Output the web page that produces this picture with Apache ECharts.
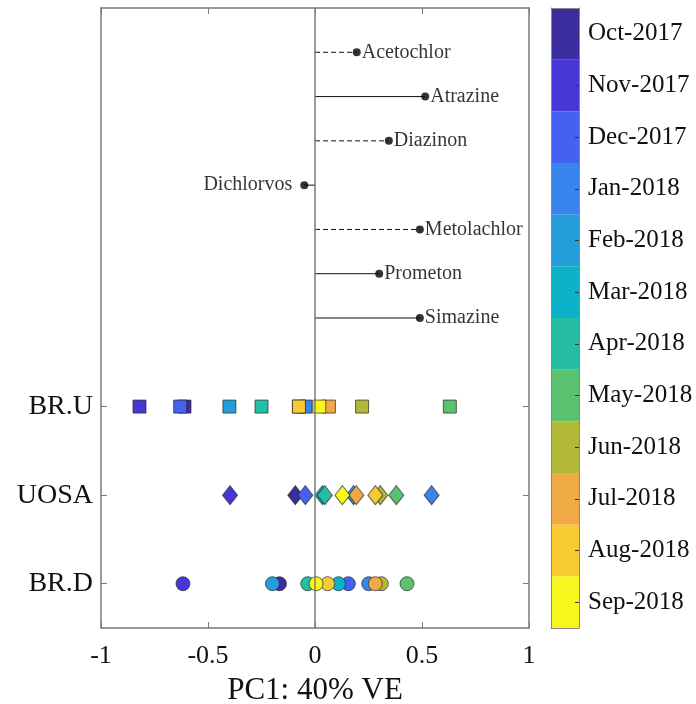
<!DOCTYPE html>
<html>
<head>
<meta charset="utf-8">
<script src="https://cdn.jsdelivr.net/npm/echarts@6/dist/echarts.min.js"></script>
<style>html,body{margin:0;padding:0;background:#fff}#c{width:696px;height:704px}</style>
</head>
<body>
<div id="c"></div>
<script>
const months = ['Oct-2017','Nov-2017','Dec-2017','Jan-2018','Feb-2018','Mar-2018','Apr-2018','May-2018','Jun-2018','Jul-2018','Aug-2018','Sep-2018'];
const monthColors = ['#3B2CA0','#4637D6','#4461F2','#3883EC','#259DDB','#0EB2C8','#26BDA5','#5BC272','#B1B937','#F0AA45','#F8CA31','#F7F71E'];
const sites = ['BR.D','UOSA','BR.U'];
const siteRows = [1,3,5];
// PC1 scores per month (Oct-2017 ... Sep-2018)
const brD  = [-0.166,-0.617,0.156,0.251,-0.199,0.11,-0.034,0.43,0.31,0.282,0.059,0.005];
const uosa = [-0.092,-0.397,-0.045,0.545,0.18,0.035,0.046,0.38,0.305,0.193,0.282,0.128];
const brU  = [-0.61,-0.82,-0.63,-0.045,-0.40,-0.075,-0.25,0.63,0.22,0.065,-0.075,0.02];
const loadingNames = ['Acetochlor','Atrazine','Diazinon','Dichlorvos','Metolachlor','Prometon','Simazine'];
const loadingValues = [0.195,0.515,0.345,-0.05,0.49,0.30,0.49];
const loadingRows = [13,12,11,10,9,8,7];
const loadingDashed = [true,false,true,false,true,false,false];
const xTicks = [-1,-0.5,0,0.5,1];

const FONT = 'Liberation Serif';
const siteData = [brD, uosa, brU];
const siteSymbols = ['circle','diamond','rect'];
const siteSizes = [14,[15,19],13];

const series = [];
siteData.forEach((arr, s) => {
  series.push({
    type: 'scatter', xAxisIndex: 0, yAxisIndex: 0,
    symbol: siteSymbols[s], symbolSize: siteSizes[s],
    data: arr.map((v, i) => ({value: [v, siteRows[s]], itemStyle: {color: monthColors[i]}})),
    itemStyle: {borderColor: 'rgba(40,40,40,0.7)', borderWidth: 1, opacity: 1},
    z: 3
  });
});
loadingNames.forEach((n, i) => {
  series.push({
    type: 'line', xAxisIndex: 0, yAxisIndex: 0, symbol: 'none',
    data: [[0, loadingRows[i]], [loadingValues[i], loadingRows[i]]],
    lineStyle: {color: '#111', width: 1, type: loadingDashed[i] ? [5,3] : 'solid'},
    z: 2, silent: true
  });
});
series.push({
  type: 'scatter', xAxisIndex: 0, yAxisIndex: 0, symbol: 'circle', symbolSize: 8,
  itemStyle: {color: '#000'},
  data: loadingNames.map((n, i) => ({
    value: [loadingValues[i], loadingRows[i]], name: n,
    label: {show: true, position: loadingValues[i] < 0 ? 'left' : 'right', distance: loadingValues[i] < 0 ? 8 : 1,
      formatter: n, fontFamily: FONT, fontSize: 20, color: '#000'}
  })),
  markLine: {silent: true, symbol: 'none', label: {show: false},
    lineStyle: {color: '#7a7a7a', width: 1.5, type: 'solid'}, data: [{xAxis: 0}]},
  z: 4
});
// colorbar
series.push({
  type: 'bar', xAxisIndex: 2, yAxisIndex: 2, barWidth: '100%', barCategoryGap: 0,
  data: months.map((m, i) => ({value: 1, itemStyle: {color: monthColors[i]}})),
  silent: true, z: 1
});

const axisGray = '#7a7a7a';
const option = {
  animation: false,
  backgroundColor: '#fff',
  grid: [
    {left: 101, right: 167, top: 8, bottom: 76, outerBoundsMode: 'none', containLabel: false},
    {left: 551, width: 28, top: 8, bottom: 76, outerBoundsMode: 'none', containLabel: false}
  ],
  xAxis: [
    {type: 'value', gridIndex: 0, min: -1, max: 1, interval: 0.5, position: 'bottom',
     name: 'PC1: 40% VE', nameLocation: 'middle', nameGap: 47,
     nameTextStyle: {fontFamily: FONT, fontSize: 31, color: '#111'},
     axisLine: {show: true, onZero: false, lineStyle: {color: axisGray, width: 1.5}},
     axisTick: {show: true, inside: true, length: 6, lineStyle: {color: axisGray}},
     axisLabel: {fontFamily: FONT, fontSize: 26, color: '#111', margin: 15,
       formatter: v => (xTicks.indexOf(v) >= 0 ? String(v) : '')},
     splitLine: {show: false}},
    {type: 'value', gridIndex: 0, min: -1, max: 1, interval: 0.5, position: 'top',
     axisLine: {show: true, onZero: false, lineStyle: {color: axisGray, width: 1.5}},
     axisTick: {show: true, inside: true, length: 6, lineStyle: {color: axisGray}},
     axisLabel: {show: false}, splitLine: {show: false}},
    {type: 'value', gridIndex: 1, min: 0, max: 1, position: 'bottom', z: 10,
     axisLine: {show: true, onZero: false, lineStyle: {color: '#888', width: 1}},
     axisTick: {show: false}, axisLabel: {show: false}, splitLine: {show: false}},
    {type: 'value', gridIndex: 1, min: 0, max: 1, position: 'top', z: 10,
     axisLine: {show: true, onZero: false, lineStyle: {color: '#888', width: 1}},
     axisTick: {show: false}, axisLabel: {show: false}, splitLine: {show: false}}
  ],
  yAxis: [
    {type: 'value', gridIndex: 0, min: 0, max: 14, position: 'left',
     axisLine: {show: true, onZero: false, lineStyle: {color: axisGray, width: 1.5}},
     axisTick: {show: true, inside: true, length: 6, customValues: siteRows, lineStyle: {color: axisGray}},
     axisLabel: {customValues: siteRows, formatter: v => sites[siteRows.indexOf(v)] || '',
       fontFamily: FONT, fontSize: 28, color: '#111', margin: 8},
     splitLine: {show: false}},
    {type: 'value', gridIndex: 0, min: 0, max: 14, position: 'right',
     axisLine: {show: true, onZero: false, lineStyle: {color: axisGray, width: 1.5}},
     axisTick: {show: true, inside: true, length: 6, customValues: siteRows, lineStyle: {color: axisGray}},
     axisLabel: {show: false}, splitLine: {show: false}},
    {type: 'category', gridIndex: 1, data: months, inverse: true, position: 'right', z: 10,
     axisLine: {show: true, onZero: false, lineStyle: {color: '#888', width: 1}},
     axisTick: {show: true, inside: true, length: 4, alignWithLabel: true, lineStyle: {color: '#333'}},
     axisLabel: {fontFamily: FONT, fontSize: 25, color: '#111', margin: 9}},
    {type: 'category', gridIndex: 1, data: months, inverse: true, position: 'left', z: 10,
     axisLine: {show: true, onZero: false, lineStyle: {color: '#888', width: 1}},
     axisTick: {show: false}, axisLabel: {show: false}}
  ],
  series: series
};
echarts.init(document.getElementById('c')).setOption(option);
</script>
</body>
</html>
